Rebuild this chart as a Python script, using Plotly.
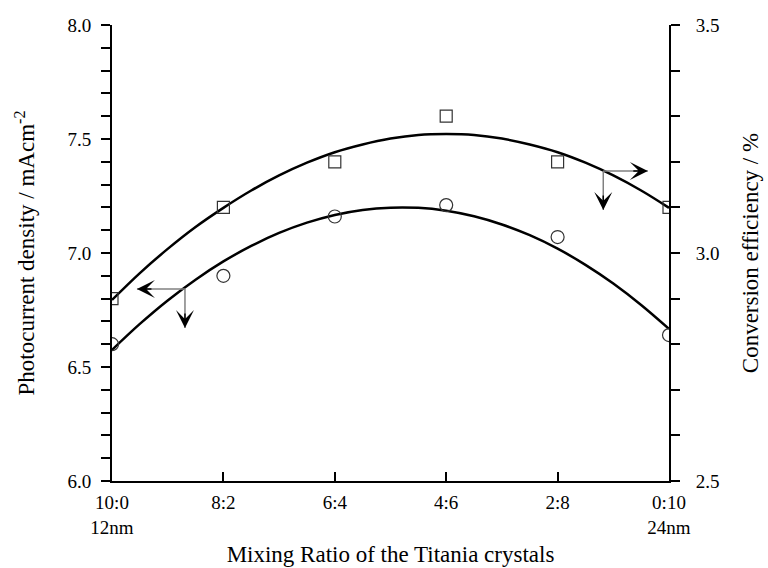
import plotly.graph_objects as go

# Categories (mixing ratio) and tick labels
categories = ["10:0", "8:2", "6:4", "4:6", "2:8", "0:10"]
tick_text = ["10:0<br>12nm", "8:2<br> ", "6:4<br> ", "4:6<br> ", "2:8<br> ", "0:10<br>24nm"]
x_pos = [0, 1, 2, 3, 4, 5]

# Measured points
photocurrent = [6.60, 6.90, 7.16, 7.21, 7.07, 6.64]      # left axis, mA cm^-2
efficiency = [2.90, 3.10, 3.20, 3.30, 3.20, 3.10]        # right axis, %

# Fitted curves
curve_x = [0, 0.25, 0.5, 0.75, 1.0, 1.25, 1.5, 1.75, 2.0, 2.25, 2.5, 2.75,
           3.0, 3.25, 3.5, 3.75, 4.0, 4.25, 4.5, 4.75, 5.0]
photo_curve = [6.575, 6.689, 6.792, 6.883, 6.963, 7.031, 7.088, 7.133, 7.167, 7.189, 7.199, 7.198,
               7.185, 7.161, 7.125, 7.078, 7.019, 6.948, 6.866, 6.772, 6.667]
eff_curve = [2.897, 2.956, 3.009, 3.057, 3.099, 3.137, 3.170, 3.198, 3.221, 3.238, 3.251, 3.259,
             3.261, 3.259, 3.251, 3.238, 3.221, 3.198, 3.170, 3.137, 3.099]

FONT = "Liberation Serif, Times New Roman, serif"
FS = 19
TFS = 23

fig = go.Figure()
fig.add_trace(go.Scatter(x=curve_x, y=photo_curve, mode="lines", line=dict(color="black", width=2.5, shape="spline"),
                         showlegend=False, hoverinfo="skip"))
fig.add_trace(go.Scatter(x=curve_x, y=eff_curve, mode="lines", yaxis="y2",
                         line=dict(color="black", width=2.5, shape="spline"), showlegend=False, hoverinfo="skip"))
fig.add_trace(go.Scatter(x=x_pos, y=photocurrent, mode="markers",
                         marker=dict(symbol="circle-open", size=13, color="#333333", line=dict(width=1.2)),
                         showlegend=False))
fig.add_trace(go.Scatter(x=x_pos, y=efficiency, mode="markers", yaxis="y2",
                         marker=dict(symbol="square-open", size=12, color="#333333", line=dict(width=1.2)),
                         showlegend=False))

# Indicator arrows (gray stems, black heads)
arrows = [
    # (start_x, start_y, horiz_tip_x, vert_tip_y) in x / left-y coordinates
    (0.655, 6.842, 0.224, 6.671),
    (4.41, 7.360, 4.81, 7.189),
]
for sx, sy, hx, vy in arrows:
    fig.add_shape(type="line", x0=sx, y0=sy, x1=hx, y1=sy, xref="x", yref="y",
                  line=dict(color="gray", width=1.5))
    fig.add_shape(type="line", x0=sx, y0=sy, x1=sx, y1=vy, xref="x", yref="y",
                  line=dict(color="gray", width=1.5))
    direction = 1 if hx < sx else -1
    fig.add_annotation(x=hx, y=sy, ax=16 * direction, ay=0, xref="x", yref="y", text="", showarrow=True,
                       arrowhead=3, arrowsize=2.0, arrowwidth=1.5, arrowcolor="black")
    fig.add_annotation(x=sx, y=vy, ax=0, ay=-16, xref="x", yref="y", text="", showarrow=True,
                       arrowhead=3, arrowsize=2.0, arrowwidth=1.5, arrowcolor="black")

fig.update_layout(
    width=768, height=568, autosize=False,
    margin=dict(l=112, r=99, t=25, b=87),
    paper_bgcolor="white", plot_bgcolor="white",
    font=dict(family=FONT, size=FS, color="black"),
    xaxis=dict(range=[0, 5], tickvals=x_pos, ticktext=tick_text, showline=True, linecolor="black",
               linewidth=2, ticks="inside", ticklen=9, tickwidth=2, tickcolor="black", automargin=False,
               showgrid=False, zeroline=False, ticklabelstandoff=3,
               title=dict(text="Mixing Ratio of the Titania crystals", standoff=9,
                          font=dict(family=FONT, size=TFS))),
    yaxis=dict(range=[6, 8], dtick=0.5, tickformat=".1f", showline=True, linecolor="black", linewidth=2,
               ticks="outside", ticklen=9, tickwidth=2, tickcolor="black", showgrid=False, zeroline=False,
               minor=dict(dtick=0.1, ticks="outside", ticklen=9, tickwidth=2, tickcolor="black", showgrid=False),
               ticklabelstandoff=6, automargin=False,
               title=dict(text="Photocurrent density / mAcm<sup>-2</sup>", standoff=26,
                          font=dict(family=FONT, size=TFS))),
    yaxis2=dict(range=[2.5, 3.5], dtick=0.5, tickformat=".1f", overlaying="y", side="right",
                showline=True, linecolor="black", linewidth=2, ticks="outside", ticklen=9, tickwidth=2,
                tickcolor="black", showgrid=False, zeroline=False, automargin=False,
                minor=dict(dtick=0.1, ticks="outside", ticklen=9, tickwidth=2, tickcolor="black", showgrid=False),
                ticklabelstandoff=12,
                title=dict(text="Conversion efficiency / %", standoff=23, font=dict(family=FONT, size=TFS))),
)

fig.write_html("out.html")
